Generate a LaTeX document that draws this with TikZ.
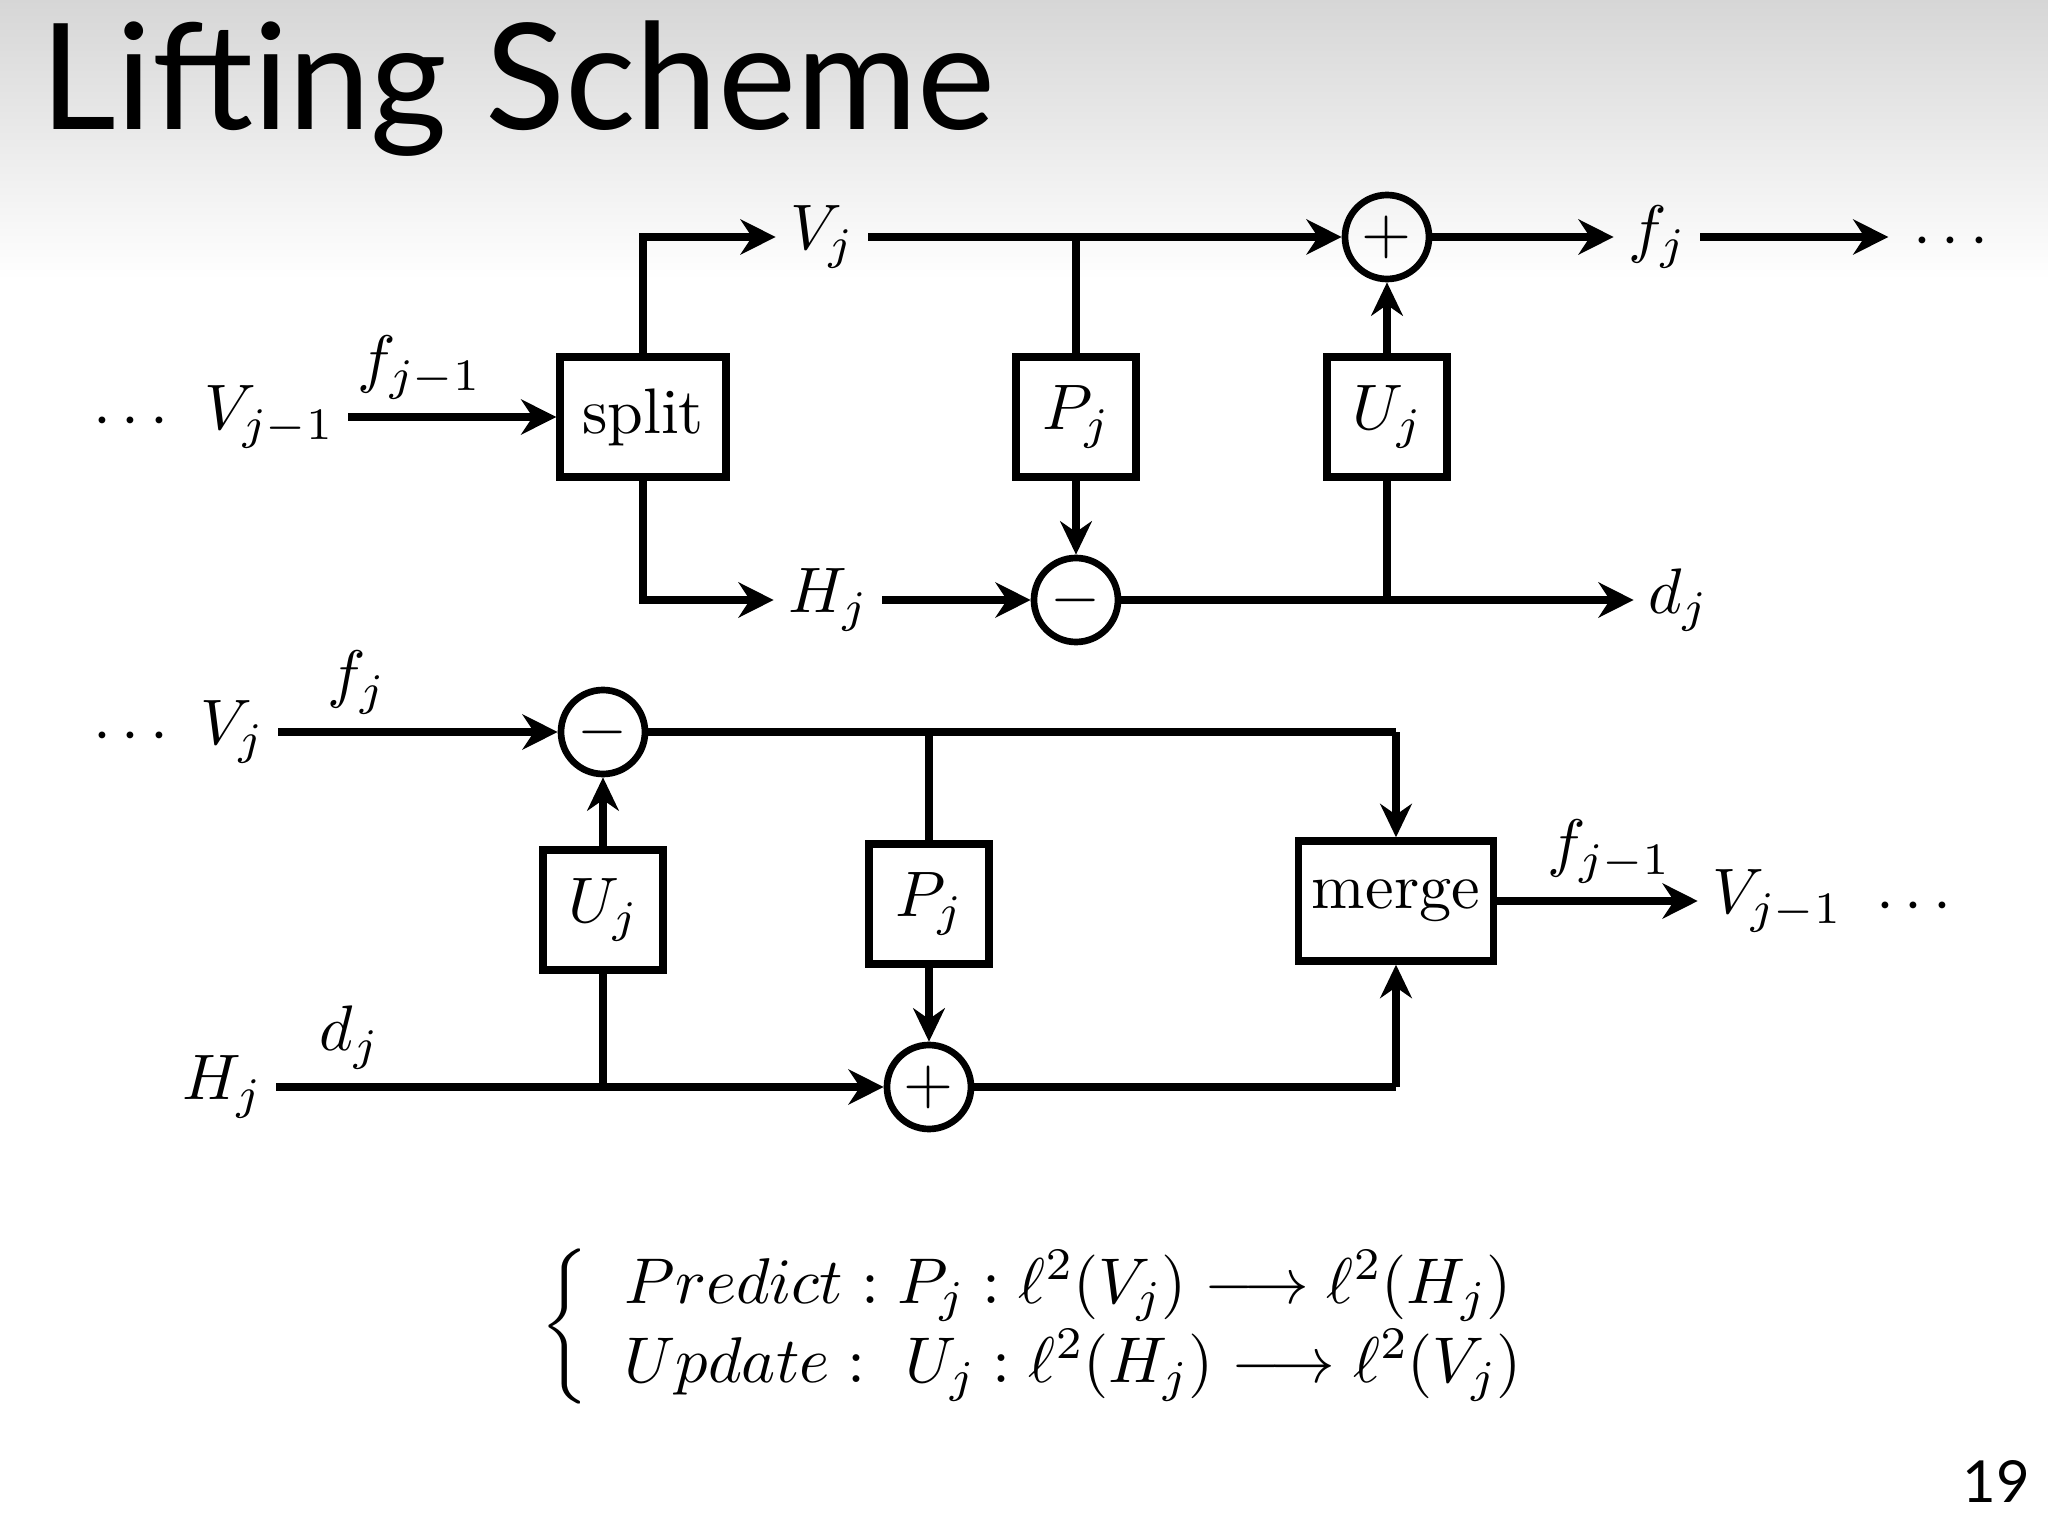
\documentclass[tikz,border=0pt]{standalone}
\usepackage{amsmath}
\DeclareFontShape{OML}{cmm}{m}{it}{<-10>cmmi5 <10-14>cmmi7 <14->cmmi10}{}
\DeclareFontShape{OMS}{cmsy}{m}{n}{<-10>cmsy5 <10-14>cmsy7 <14->cmsy10}{}
\DeclareFontShape{OMX}{cmex}{m}{n}{<->cmex10}{}
\DeclareFontShape{OT1}{cmr}{m}{n}{<-10>cmr5 <10-14>cmr7 <14->cmr10}{}
\usepackage[no-math]{fontspec}
\setmainfont{lmroman10-regular.otf}
\newfontfamily\titlefont{Lato}
\usetikzlibrary{arrows.meta}

\begin{document}
\begin{tikzpicture}[font=\fontsize{18.3}{22}\selectfont,
  blk/.style={draw,line width=2.1pt,minimum width=1.2cm,minimum height=1.2cm,inner sep=2pt},
  sumop/.style={draw,circle,line width=1.9pt,minimum size=0.84cm,inner sep=0pt},
  lbl/.style={inner sep=4pt},
  sig/.style={line width=2.3pt,-{Stealth[length=10pt,width=10pt]}},
  wire/.style={line width=2.3pt},
  tap/.style={line width=2.0pt},
  feed/.style={line width=2.0pt,-{Stealth[length=9.5pt,width=9pt]}}]
\useasboundingbox (0,0) rectangle (20.48,-15.36);
\shade[top color=black!16,bottom color=white] (0,0) rectangle (20.48,-2.8);
% title and slide number
\node[font=\titlefont\fontsize{42}{50}\selectfont,anchor=base west,inner sep=0pt] (title) at (0.40,-1.30) {Lifting Scheme};
\node[font=\titlefont\fontsize{16.5}{20}\selectfont] (page) at (19.96,-14.81) {19};
% ================= split / predict / update =================
\node[blk,minimum width=1.66cm] (split) at (6.43,-4.17) {split};
\node[blk] (P1) at (10.76,-4.17) {$P_j$};
\node[blk] (U1) at (13.87,-4.17) {$U_j$};
\node[sumop] (add1) at (13.87,-2.37) {$+$};
\node[sumop] (sub1) at (10.76,-6.00) {$-$};
\node[lbl] (dots1) at (1.36,-4.22) {$\cdots$};
\node[lbl] (Vin1) at (2.69,-4.17) {$V_{j-1}$};
\node[lbl] (V1) at (8.22,-2.37) {$V_j$};
\node[lbl] (H1) at (8.28,-6.00) {$H_j$};
\node[lbl] (f1) at (16.57,-2.37) {$f_j$};
\node[lbl] (dots2) at (19.56,-2.42) {$\cdots$};
\node[lbl] (d1) at (16.78,-6.00) {$d_j$};
\draw[sig] (Vin1) -- (split) node[lbl,above,pos=0.34] (lf1) {$f_{j-1}$};
\draw[sig] (split.north) |- (V1.west);
\draw[sig] (split.south) |- (H1.west);
\draw[sig] (V1) -- (add1);
\draw[sig] (H1) -- (sub1);
\draw[sig] (add1) -- (f1);
\draw[sig,shorten >=0.1cm] (f1) -- (f1 -| dots2.west);
\draw[sig] (sub1) -- (d1);
% predict and update taps
\draw[tap] (V1 -| P1) -- (P1);
\draw[feed] (P1) -- (sub1);
\draw[tap] (sub1 -| U1) -- (U1);
\draw[feed] (U1) -- (add1);
% ================= inverse: undo update / predict, merge =================
\node[sumop] (sub2) at (6.03,-7.32) {$-$};
\node[blk] (U2) at (6.03,-9.10) {$U_j$};
\node[blk] (P2) at (9.29,-9.04) {$P_j$};
\node[sumop] (add2) at (9.29,-10.87) {$+$};
\node[blk,minimum width=1.95cm] (merge) at (13.96,-9.01) {merge};
\node[lbl] (dots3) at (1.36,-7.37) {$\cdots$};
\node[lbl] (V2) at (2.32,-7.32) {$V_j$};
\node[lbl] (H2) at (2.22,-10.87) {$H_j$};
\node[lbl] (Vout) at (17.77,-9.01) {$V_{j-1}$};
\node[lbl] (dots4) at (19.19,-9.07) {$\cdots$};
\coordinate (mtop) at (sub2 -| merge);
\coordinate (mbot) at (add2 -| merge);
\draw[sig] (V2) -- (sub2) node[lbl,above,pos=0.28] (lf2) {$f_j$};
\draw[wire] (sub2) -- (mtop);
\draw[feed] (mtop) -- (merge);
\draw[sig] (H2) -- (add2) node[lbl,above,pos=0.12] (ld2) {$d_j$};
\draw[wire] (add2) -- (mbot);
\draw[feed] (mbot) -- (merge);
\draw[tap] (sub2 -| P2) -- (P2);
\draw[feed] (P2) -- (add2);
\draw[tap] (add2 -| U2) -- (U2);
\draw[feed] (U2) -- (sub2);
\draw[sig] (merge) -- (Vout) node[lbl,above,pos=0.555] (lf3) {$f_{j-1}$};
% predict / update maps
\node (eqs) at (10.42,-13.27) {\fontsize{18.4}{22.5}\selectfont$\left\{\;\begin{array}{l}
  Predict : P_j : \ell^2(V_j) \longrightarrow \ell^2(H_j)\\
  Update :~ U_j : \ell^2(H_j) \longrightarrow \ell^2(V_j)
  \end{array}\right.$};
\end{tikzpicture}
\end{document}
